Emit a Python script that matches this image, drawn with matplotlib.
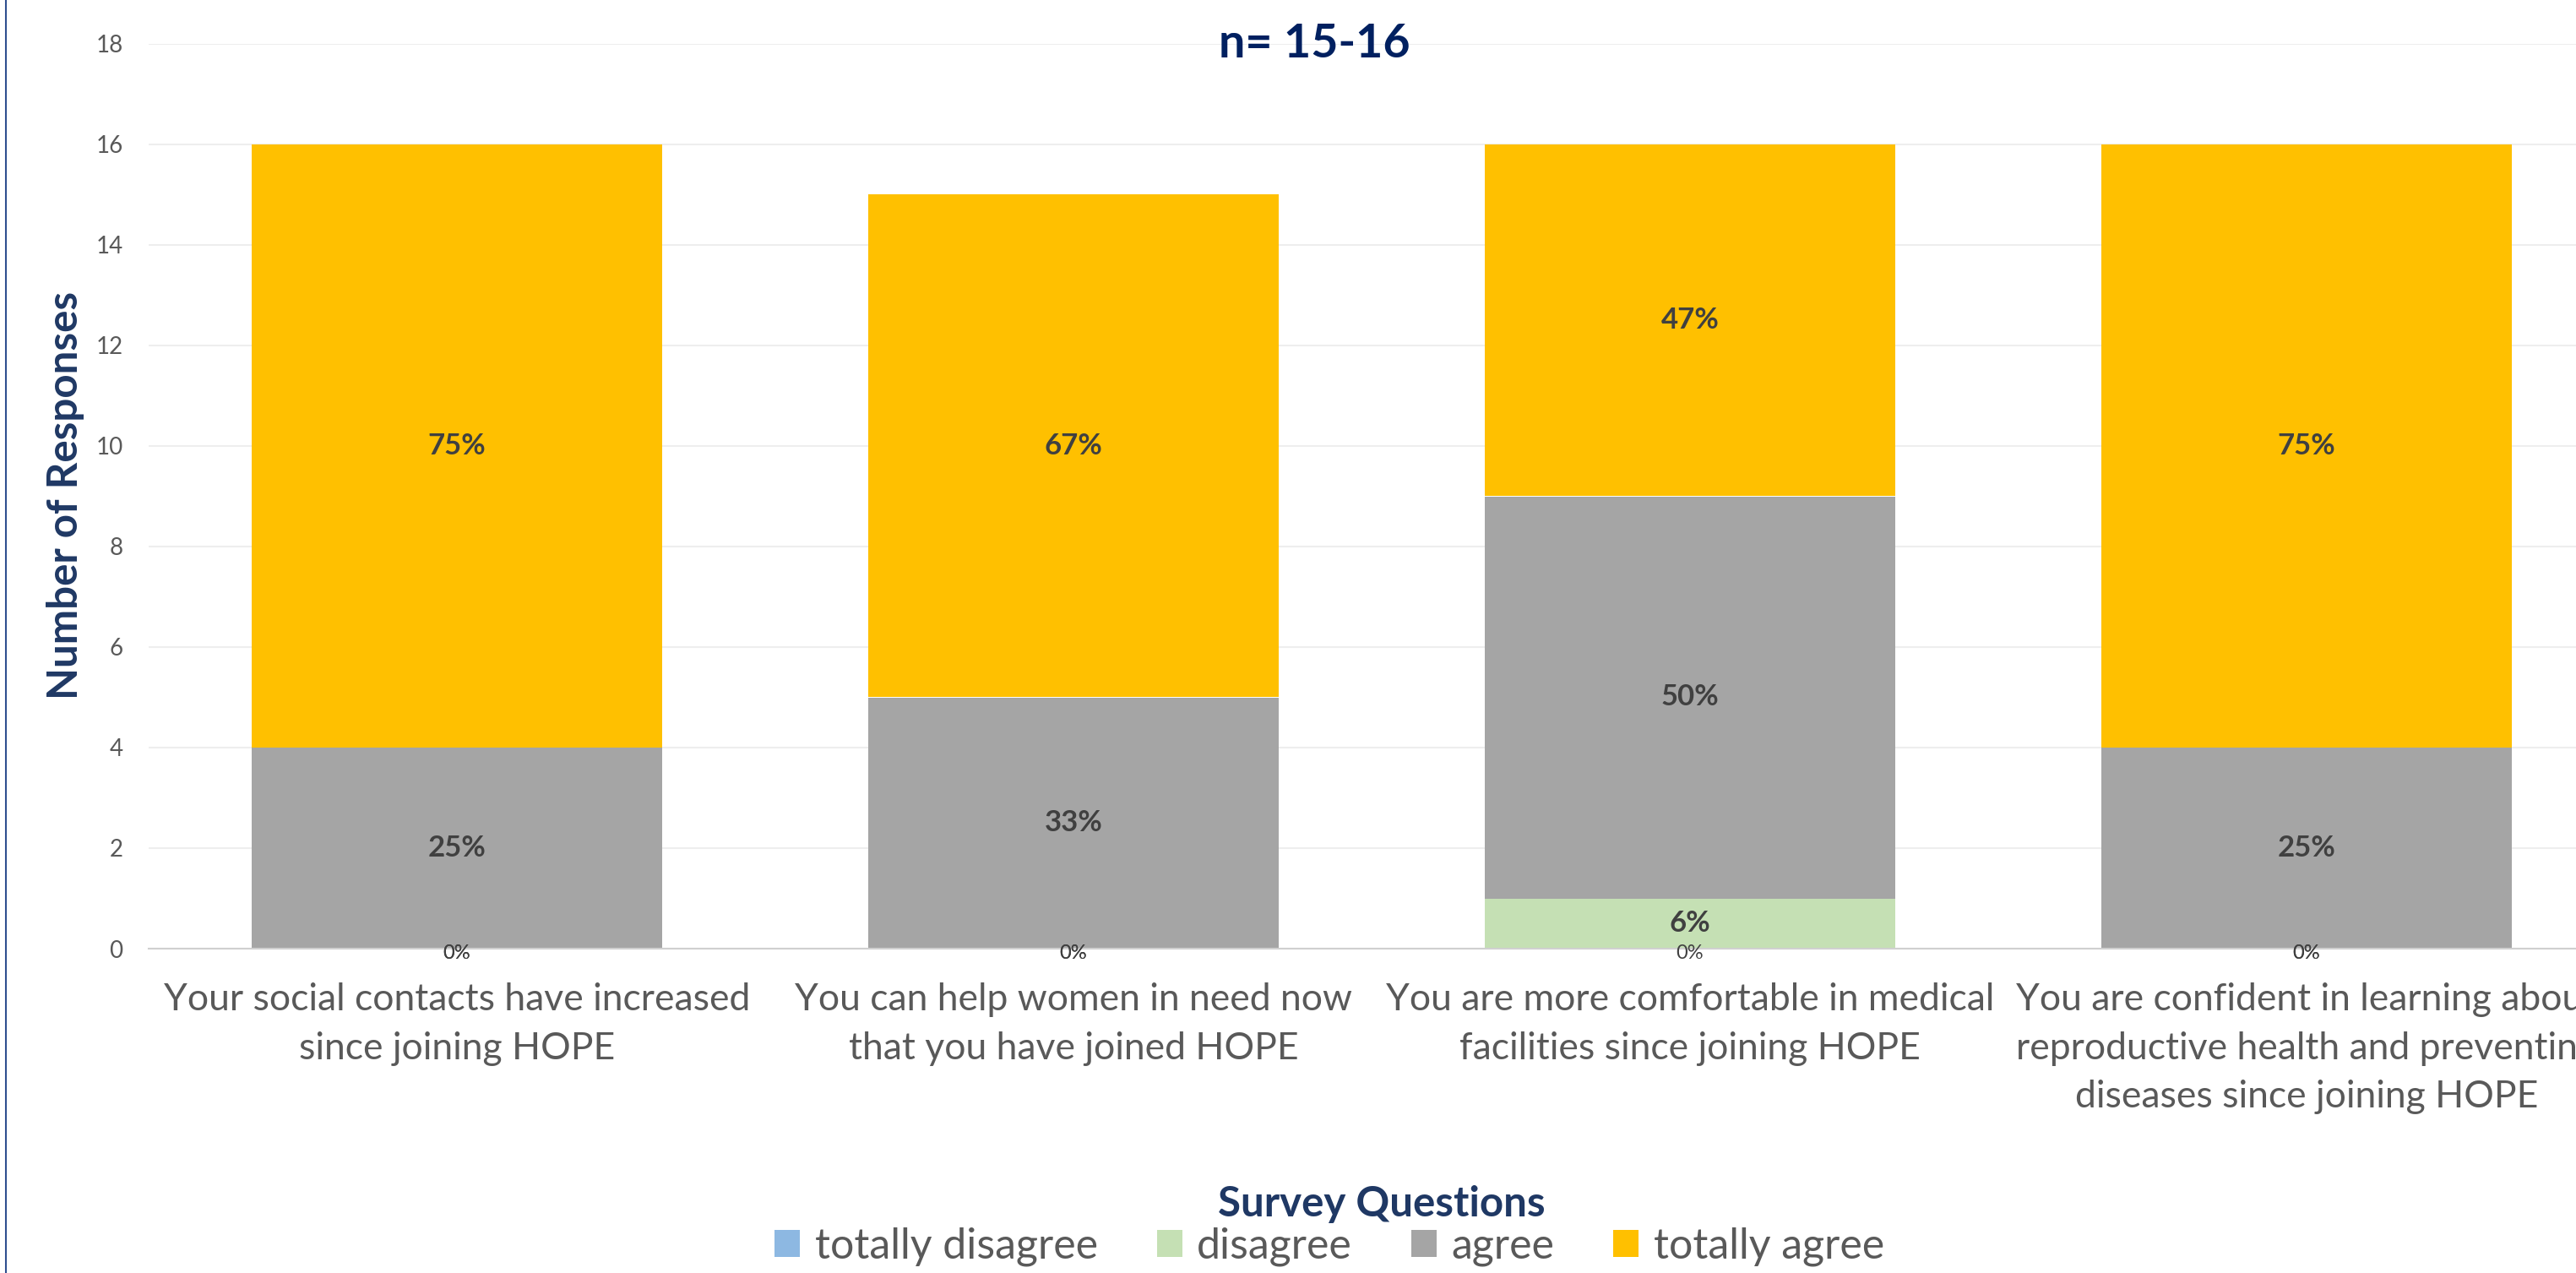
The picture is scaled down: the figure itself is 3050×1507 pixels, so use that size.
import matplotlib
matplotlib.use('Agg')
import matplotlib.pyplot as plt
from matplotlib.lines import Line2D

plt.rcParams['font.family'] = ['Lato', 'DejaVu Sans']

questions = ['Your social contacts have increased\nsince joining HOPE',
             'You can help women in need now\nthat you have joined HOPE',
             'You are more comfortable in medical\nfacilities since joining HOPE',
             'You are confident in learning about\nreproductive health and preventing\ndiseases since joining HOPE']
series = ['totally disagree', 'disagree', 'agree', 'totally agree']
colors = ['#8DB8E2', '#C5E0B4', '#A5A5A5', '#FFC000']

totally_disagree = [0, 0, 0, 0]
disagree = [0, 0, 1, 0]
agree = [4, 5, 8, 4]
totally_agree = [12, 10, 7, 12]

# labels as printed on the chart
lbl_totally_disagree = ['0%', '0%', '0%', '0%']
lbl_disagree = ['0%', '0%', '6%', '0%']
lbl_agree = ['25%', '33%', '50%', '25%']
lbl_totally_agree = ['75%', '67%', '47%', '75%']

vals = [totally_disagree, disagree, agree, totally_agree]
lbls = [lbl_totally_disagree, lbl_disagree, lbl_agree, lbl_totally_agree]

W, H = 3050, 1507
fig = plt.figure(figsize=(W/100, H/100), dpi=100)
ax = fig.add_axes([176/W, (H-1123)/H, 2920/W, 1071/H])

x = list(range(len(questions)))
bottom = [0]*len(x)
for s, v, c, lb in zip(series, vals, colors, lbls):
    ax.bar(x, v, width=0.667, bottom=bottom, color=c, label=s, zorder=2)
    for i in x:
        if v[i] == 0:
            ax.text(i, bottom[i] - 0.1, lb[i], ha='center', va='center',
                    fontsize=17, color='#404040', zorder=3)
        else:
            ax.text(i, bottom[i] + v[i]/2, lb[i], ha='center', va='center',
                    fontsize=25, fontweight='bold', color='#404040', zorder=3)
    bottom = [b + vv for b, vv in zip(bottom, v)]

ax.set_xlim(-0.5, 3.5)
ax.set_ylim(0, 18)
ax.set_yticks(range(0, 19, 2))
ax.grid(axis='y', color='#EEEEEE', lw=1.5, zorder=0)
ax.set_axisbelow(True)
for sp in ['top', 'right', 'left']:
    ax.spines[sp].set_visible(False)
ax.spines['bottom'].set_color('#D0D0D0')
ax.spines['bottom'].set_linewidth(1.5)
ax.tick_params(axis='y', length=0, pad=22, labelsize=20, labelcolor='#595959')
ax.tick_params(axis='x', length=0, pad=29, labelsize=32, labelcolor='#595959')
ax.set_xticks(x)
ax.set_xticklabels(questions, linespacing=1.5)

fig.text(78/W, 1-586/H, 'Number of Responses', rotation=90, ha='center', va='center',
         fontsize=35.5, fontweight='bold', color='#1F3864')
fig.text(1636/W, 1-1426/H, 'Survey Questions', ha='center', va='center',
         fontsize=35.5, fontweight='bold', color='#1F3864')
fig.text(1556/W, 1-52/H, 'n= 15-16', ha='center', va='center',
         fontsize=40, fontweight='bold', color='#002060')

fig.legend(loc='center', bbox_to_anchor=(1574/W, 1-1476/H), ncol=4, frameon=False,
           fontsize=36, labelcolor='#595959', handlelength=0.6, handleheight=0.6,
           handletextpad=0.35, columnspacing=1.4)

fig.add_artist(Line2D([7/W, 7/W], [0, 1], color='#2F4F8F', lw=1.5))

fig.savefig('out.png', dpi=100)
